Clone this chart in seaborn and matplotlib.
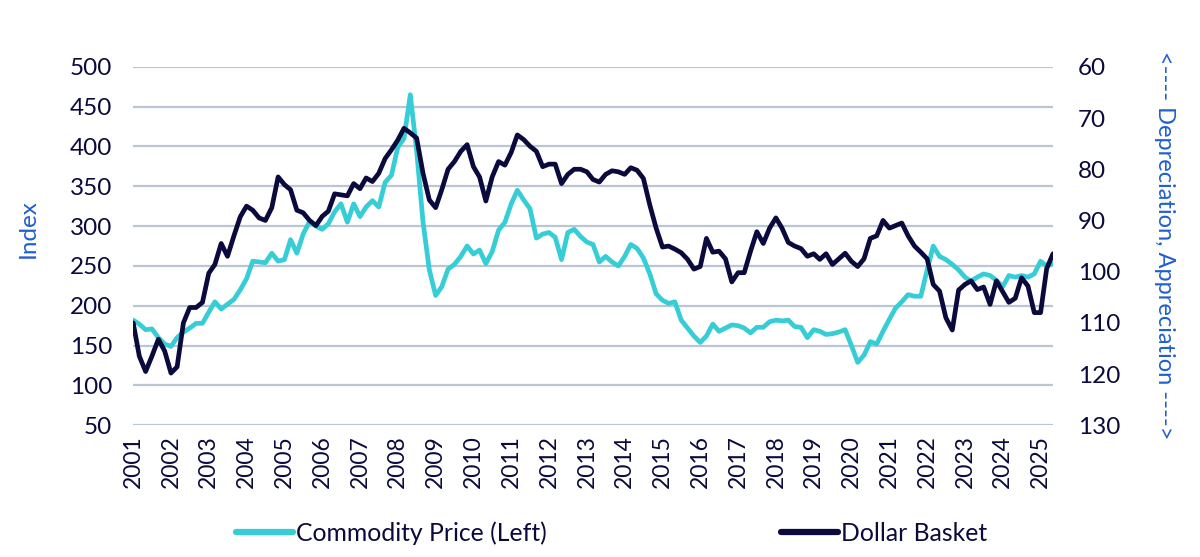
import numpy as np
import pandas as pd
import matplotlib
matplotlib.use("Agg")
import matplotlib.pyplot as plt
from matplotlib.lines import Line2D
import seaborn as sns

# bimonthly readings, Jan 2001 .. May 2025
dates = pd.date_range("2001-01-01", periods=147, freq="2MS")

commodity = [
    182, 177, 170, 171, 160, 152,   # 2001
    149, 160, 167, 172, 178, 178,   # 2002
    192, 205, 196, 202, 208, 220,   # 2003
    234, 256, 255, 254, 266, 256,   # 2004
    258, 283, 266, 290, 306, 300,   # 2005
    296, 303, 318, 328, 305, 328,   # 2006
    312, 324, 332, 324, 355, 364,   # 2007
    399, 410, 465, 395, 305, 245,   # 2008
    213, 224, 246, 252, 262, 275,   # 2009
    265, 270, 253, 268, 295, 305,   # 2010
    328, 345, 333, 322, 285, 290,   # 2011
    292, 286, 258, 292, 296, 287,   # 2012
    280, 277, 255, 262, 255, 250,   # 2013
    262, 277, 272, 260, 240, 215,   # 2014
    207, 203, 205, 182, 172, 162,   # 2015
    154, 162, 177, 168, 172, 176,   # 2016
    175, 172, 166, 173, 173, 180,   # 2017
    182, 181, 182, 174, 173, 160,   # 2018
    170, 168, 164, 165, 167, 170,   # 2019
    150, 129, 138, 155, 152, 168,   # 2020
    183, 197, 205, 214, 212, 212,   # 2021
    245, 275, 262, 258, 252, 245,   # 2022
    236, 231, 236, 240, 238, 232,   # 2023
    224, 238, 236, 238, 236, 240,   # 2024
    256, 250, 253,                  # 2025
]

dollar = [
    110, 116.5, 119.5, 116.5, 113.2, 115.5,   # 2001
    119.8, 118.6, 110, 107, 107, 106,         # 2002
    100.3, 98.6, 94.5, 97, 93, 89.3,          # 2003
    87.2, 88, 89.5, 90, 87.5, 81.5,           # 2004
    83, 84, 88, 88.5, 90, 91,                 # 2005
    89.2, 88.2, 84.8, 85, 85.2, 82.8,         # 2006
    83.8, 81.7, 82.4, 80.8, 77.9, 76.2,       # 2007
    74.3, 72, 72.9, 73.9, 80.8, 86,           # 2008
    87.5, 84, 80, 78.5, 76.5, 75.2,           # 2009
    79.5, 81.5, 86.2, 81.5, 78.5, 79.2,       # 2010
    76.7, 73.3, 74.2, 75.5, 76.5, 79.5,       # 2011
    79, 79, 82.8, 81, 80, 80,                 # 2012
    80.5, 82, 82.5, 81, 80.3, 80.5,           # 2013
    81, 79.7, 80.2, 81.8, 87, 91.5,           # 2014
    95.2, 95, 95.6, 96.3, 97.6, 99.5,         # 2015
    99, 93.5, 96.2, 96, 97.5, 102,            # 2016
    100.2, 100.2, 96, 92.2, 94.5, 91.5,       # 2017
    89.5, 91.5, 94.3, 95, 95.5, 97,           # 2018
    96.5, 97.6, 96.5, 98.6, 97.5, 96.4,       # 2019
    98, 99, 97.5, 93.5, 93, 90,               # 2020
    91.5, 91, 90.5, 93, 95, 96.2,             # 2021
    97.5, 102.5, 103.8, 109, 111.4, 103.6,    # 2022
    102.5, 101.8, 103.5, 103, 106.4, 101.8,   # 2023
    103.9, 106, 105.2, 101.2, 102.8, 108,     # 2024
    108, 99.4, 96.5,                          # 2025
]

years = list(range(2001, 2026))
left_ticks = list(range(50, 501, 50))
right_ticks = list(range(60, 131, 10))

CYAN = "#36CDD6"
NAVY = "#0B0A3D"
BLUE = "#1F5FD0"
GRID = "#BAC6D2"

sns.set_theme(style="white")
plt.rcParams["font.family"] = ["Lato", "DejaVu Sans"]

df = pd.DataFrame({"date": dates, "commodity": commodity, "dollar": dollar})

fig = plt.figure(figsize=(12, 5.57), dpi=100)
ax = fig.add_axes([0.111, 0.2365, 0.7665, 0.6435])
ax2 = ax.twinx()

sns.lineplot(data=df, x="date", y="commodity", ax=ax, color=CYAN, linewidth=3.4)
sns.lineplot(data=df, x="date", y="dollar", ax=ax2, color=NAVY, linewidth=3.4)

ax.set_ylim(50, 500)
ax.set_yticks(left_ticks)
ax2.set_ylim(130, 60)
ax2.set_yticks(right_ticks)
ax.set_xlim(dates[0], dates[-1])
ax.set_xticks(pd.to_datetime([f"{y}-01-01" for y in years]))
ax.set_xticklabels([str(y) for y in years], rotation=90)

ax.yaxis.grid(True, color=GRID, linewidth=1.6)
ax.xaxis.grid(False)
ax2.grid(False)
for a in (ax, ax2):
    for s in a.spines.values():
        s.set_visible(False)
    a.set_xlabel("")
    a.set_ylabel("")

ax.tick_params(axis="y", length=0, pad=15, labelsize=17.5, labelcolor=NAVY)
ax.tick_params(axis="x", length=0, pad=7, labelsize=16.5, labelcolor=NAVY)
ax2.tick_params(axis="y", length=0, pad=18, labelsize=17.5, labelcolor=NAVY)

fig.text(28 / 1200, 1 - 229 / 557, "Index", rotation=90, ha="center", va="center",
         color=BLUE, fontsize=17.5)
fig.text(1165 / 1200, 1 - 245 / 557, "<---- Depreciation, Appreciation ---->",
         rotation=270, ha="center", va="center", color=BLUE, fontsize=17)

handles = [Line2D([], [], color=CYAN, linewidth=4.5, solid_capstyle="round"),
           Line2D([], [], color=NAVY, linewidth=4.5, solid_capstyle="round")]
fig.legend(handles, ["Commodity Price (Left)", "Dollar Basket"],
           loc="center left", bbox_to_anchor=(224 / 1200, 1 - 533 / 557),
           ncol=2, frameon=False, fontsize=17.8, handlelength=2.3,
           handletextpad=0.1, columnspacing=9.5, borderpad=0,
           labelcolor=NAVY)

fig.savefig("out.png", dpi=100)
